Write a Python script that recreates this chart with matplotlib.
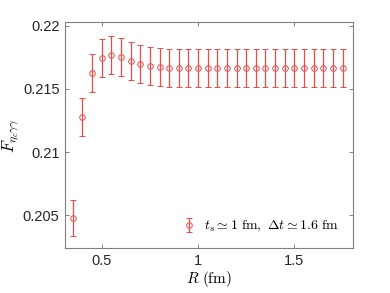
import matplotlib
matplotlib.use("Agg")
import matplotlib.pyplot as plt
import numpy as np

plt.rcParams["mathtext.fontset"] = "cm"
plt.rcParams["font.family"] = ["Liberation Sans", "DejaVu Sans"]

# data
r_fm = [0.35, 0.40, 0.45, 0.50, 0.55, 0.60, 0.65, 0.70, 0.75, 0.80,
        0.85, 0.90, 0.95, 1.00, 1.05, 1.10, 1.15, 1.20, 1.25, 1.30,
        1.35, 1.40, 1.45, 1.50, 1.55, 1.60, 1.65, 1.70, 1.75]
f_val = [0.2048, 0.2128, 0.21624, 0.21743, 0.21772, 0.21751, 0.21719, 0.21698,
         0.21685, 0.21671, 0.21669, 0.21667, 0.21667, 0.21667, 0.21667, 0.21667,
         0.21667, 0.21667, 0.21667, 0.21667, 0.21667, 0.21667, 0.21667, 0.21667,
         0.21667, 0.21667, 0.21667, 0.21667, 0.21667]
f_err = [0.0014, 0.0015, 0.0015, 0.0015, 0.0015, 0.0015, 0.0015, 0.0015,
         0.0015, 0.0015, 0.0015, 0.0015, 0.0015, 0.0015, 0.0015, 0.0015,
         0.0015, 0.0015, 0.0015, 0.0015, 0.0015, 0.0015, 0.0015, 0.0015,
         0.0015, 0.0015, 0.0015, 0.0015, 0.0015]
x_ticks = [0.5, 1.0, 1.5]
x_tick_labels = ["0.5", "1", "1.5"]
y_ticks = [0.205, 0.21, 0.215, 0.22]
y_tick_labels = ["0.205", "0.21", "0.215", "0.22"]

color = "#f04848"
axis_gray = "#808080"

fig = plt.figure(figsize=(3.9, 2.93), dpi=100)
ax = fig.add_axes([0.167, 0.153, 0.738, 0.772])

ax.errorbar(r_fm, f_val, yerr=f_err, fmt="o", color=color, ecolor=color,
            mfc="none", mec=color, ms=4, mew=0.7, elinewidth=0.9,
            capsize=2.2, capthick=0.9,
            label=r"$t_s \simeq 1\ \mathrm{fm},\ \Delta t \simeq 1.6\ \mathrm{fm}$")

ax.set_xlim(0.31, 1.804)
ax.set_ylim(0.2024, 0.2203)
ax.set_xticks(x_ticks)
ax.set_xticklabels(x_tick_labels)
ax.set_yticks(y_ticks)
ax.set_yticklabels(y_tick_labels)

ax.tick_params(direction="in", top=True, right=True, length=3, width=0.7,
               color=axis_gray, labelcolor="#262626", labelsize=10.5, pad=4)
for s in ax.spines.values():
    s.set_color(axis_gray)
    s.set_linewidth(0.8)

ax.set_xlabel(r"$R\ \mathrm{(fm)}$", fontsize=11, labelpad=1)
ax.set_ylabel(r"$F_{\eta_c\gamma\gamma}$", fontsize=12, labelpad=1)

ax.legend(loc="lower right", frameon=False, fontsize=10, handlelength=1.0,
          handletextpad=0.6, borderaxespad=0.6)

fig.savefig("out.png", dpi=100)
